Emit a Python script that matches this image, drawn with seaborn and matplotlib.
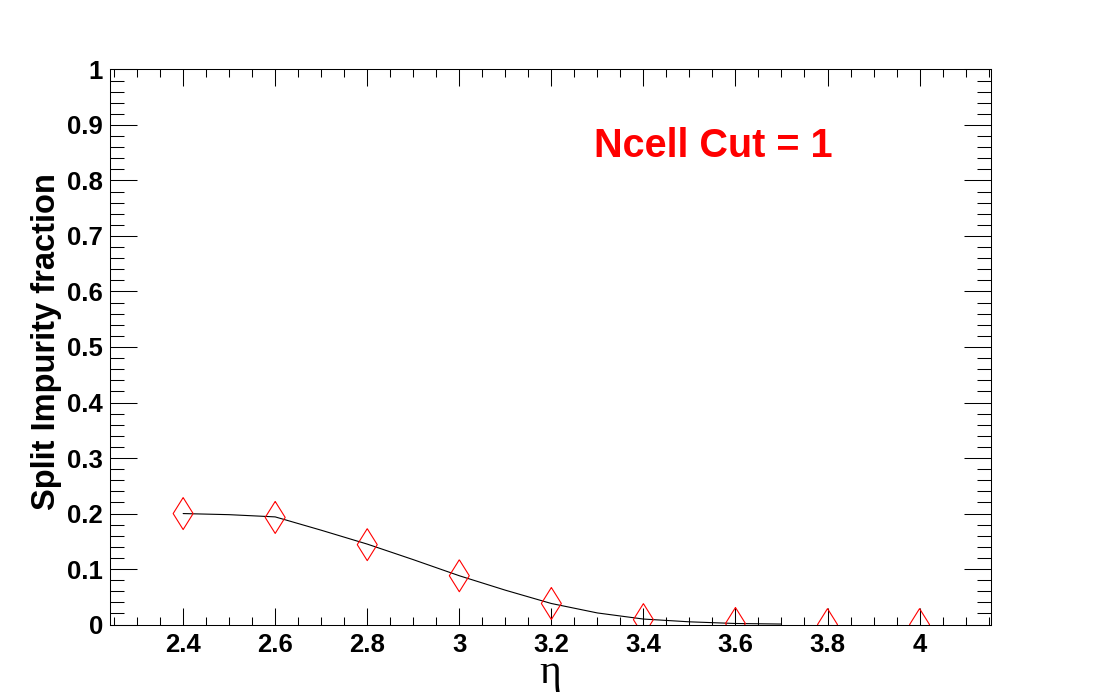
import matplotlib
matplotlib.use("Agg")
import matplotlib.pyplot as plt
from matplotlib.ticker import MultipleLocator, FormatStrFormatter
import seaborn as sns
import pandas as pd

# measured points (eta, split impurity fraction)
eta = [2.4, 2.6, 2.8, 3.0, 3.2, 3.4, 3.6, 3.8, 4.0]
impurity = [0.200, 0.193, 0.144, 0.088, 0.038, 0.009, 0.002, 0.0, 0.0]

# smooth curve
curve_eta = [2.4, 2.5, 2.6, 2.7, 2.8, 2.9, 3.0, 3.1, 3.2, 3.3, 3.4, 3.5, 3.6, 3.7]
curve_val = [0.200, 0.198, 0.194, 0.170, 0.145, 0.117, 0.088, 0.062, 0.038,
             0.021, 0.010, 0.005, 0.002, 0.001]

sns.set_theme(style="ticks")
plt.rcParams['font.family'] = ['Liberation Sans', 'DejaVu Sans']
plt.rcParams['text.color'] = 'black'
plt.rcParams['axes.labelcolor'] = 'black'
plt.rcParams['mathtext.fontset'] = 'custom'
plt.rcParams['mathtext.rm'] = 'Liberation Serif'
plt.rcParams['mathtext.it'] = 'Liberation Serif:italic'

pts = pd.DataFrame({'eta': eta, 'frac': impurity})
crv = pd.DataFrame({'eta': curve_eta, 'frac': curve_val})

fig = plt.figure(figsize=(11.01, 6.94), dpi=100)
ax = fig.add_axes([0.1, 0.1, 0.8, 0.8])

sns.lineplot(data=crv, x='eta', y='frac', ax=ax, color='black', linewidth=0.8, sort=False)
diamond = [(0, 1), (0.625, 0), (0, -1), (-0.625, 0), (0, 1)]
sns.scatterplot(data=pts, x='eta', y='frac', ax=ax, marker=diamond, s=530,
                facecolor='none', edgecolor='red', linewidth=0.8, zorder=5)

ax.set_xlim(2.2413, 4.155)
ax.set_ylim(0, 1)
ax.xaxis.set_major_locator(MultipleLocator(0.2))
ax.xaxis.set_minor_locator(MultipleLocator(0.05))
ax.yaxis.set_major_locator(MultipleLocator(0.1))
ax.yaxis.set_minor_locator(MultipleLocator(0.02))
ax.xaxis.set_major_formatter(FormatStrFormatter('%g'))
ax.yaxis.set_major_formatter(FormatStrFormatter('%g'))

ax.tick_params(axis='both', which='both', direction='in', top=True, right=True,
               width=0.75, colors='black')
ax.tick_params(axis='x', which='major', length=12.5, pad=6, labelsize=18.5)
ax.tick_params(axis='x', which='minor', length=6)
ax.tick_params(axis='y', which='major', length=19.5, pad=5, labelsize=18.5)
ax.tick_params(axis='y', which='minor', length=10)
for lab in ax.get_xticklabels() + ax.get_yticklabels():
    lab.set_fontweight('bold')
for sp in ax.spines.values():
    sp.set_linewidth(0.75)
    sp.set_color('black')

# mathtext keeps the label box tight around the glyph
ax.set_xlabel(r'$\mathrm{\eta}$', fontsize=30, color='black')
ax.xaxis.set_label_coords(0.499, -0.105)
ax.xaxis.label.set_va('baseline')
ax.set_ylabel('Split Impurity fraction', fontsize=23.5, fontweight='bold', color='black')
ax.yaxis.set_label_coords(-0.055, 0.51)

ax.text(0.685, 0.862, 'Ncell Cut = 1', transform=ax.transAxes, color='red',
        fontsize=28.5, fontweight='bold', ha='center', va='center')

fig.savefig('out.png', dpi=100)
